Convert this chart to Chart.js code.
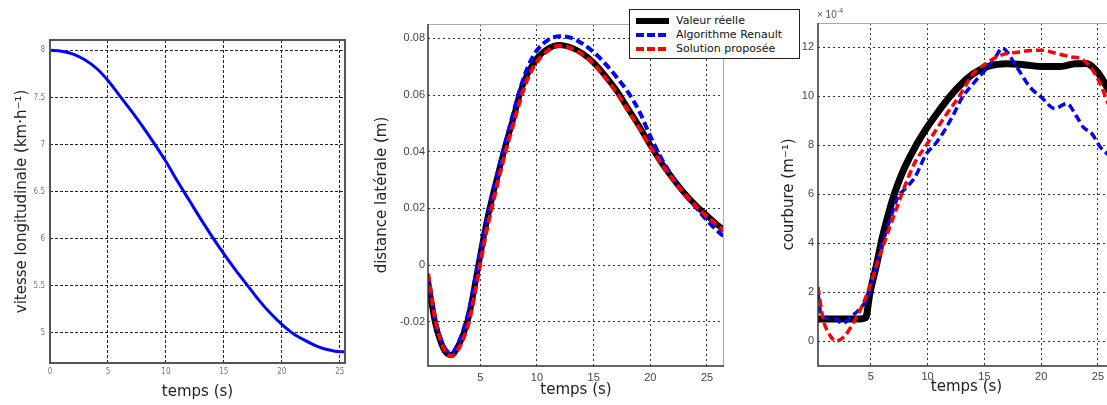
<!DOCTYPE html>
<html>
<head>
<meta charset="utf-8">
<script src="https://cdn.jsdelivr.net/npm/chart.js@4/dist/chart.umd.min.js"></script>
<style>
  html, body { margin: 0; padding: 0; background: #fff; }
  body { width: 1107px; height: 405px; overflow: hidden; position: relative; }
  canvas { position: absolute; top: 0; }
  #legend {
    position: absolute; left: 629px; top: 9px; width: 169px; height: 48px;
    border: 1px solid #222; background: #fff;
    font-family: "DejaVu Sans", sans-serif; font-size: 11px; color: #111;
  }
  #legend .row { position: absolute; left: 0; height: 14px; line-height: 14px; }
  #legend .smp { position: absolute; left: 6px; width: 33px; }
  #legend .txt { position: absolute; left: 46px; top: 0; white-space: nowrap; }
</style>
</head>
<body>
<canvas id="vitesse" width="360" height="405" style="left:0px"></canvas>
<canvas id="distance" width="380" height="405" style="left:360px"></canvas>
<canvas id="courbure" width="400" height="405" style="left:740px"></canvas>
<div id="legend">
  <div class="row" style="top:4px"><div class="smp" style="top:4px;height:6px;background:#000"></div><span class="txt">Valeur réelle</span></div>
  <div class="row" style="top:18px"><div class="smp" style="top:5px;height:4px;background:repeating-linear-gradient(to right,#0000ff 0 8px,transparent 8px 11px)"></div><span class="txt">Algorithme Renault</span></div>
  <div class="row" style="top:32px"><div class="smp" style="top:5px;height:4px;background:repeating-linear-gradient(to right,#ff0000 0 8px,transparent 8px 11px)"></div><span class="txt">Solution proposée</span></div>
</div>
<script>
// ---- vitesse longitudinale ----
const tVitesse = [0, 1, 2, 3, 4, 5, 6, 7, 8, 9, 10, 11, 12, 13, 14, 15, 16, 17, 18, 19, 20, 21, 22, 23, 24, 25, 25.5];
const vitesse = [8.0, 7.99, 7.96, 7.90, 7.81, 7.68, 7.52, 7.36, 7.19, 7.01, 6.82, 6.61, 6.41, 6.21, 6.02, 5.84, 5.67, 5.51, 5.35, 5.21, 5.09, 4.99, 4.92, 4.86, 4.82, 4.80, 4.80];
const vitesseXTicks = [0, 5, 10, 15, 20, 25];
const vitesseYTicks = [5, 5.5, 6, 6.5, 7, 7.5, 8];

// ---- distance latérale ----
const tDistance = [0.4, 1, 1.5, 2, 2.5, 3, 3.5, 4, 4.5, 5, 5.5, 6, 6.5, 7, 7.5, 8, 8.5, 9, 9.5, 10, 11, 12, 13, 14, 15, 16, 17, 18, 19, 20, 21, 22, 23, 24, 25, 26, 26.5];
const distReelle = [-0.006, -0.020, -0.027, -0.031, -0.0317, -0.029, -0.0245, -0.018, -0.0075, 0.0035, 0.014, 0.023, 0.031, 0.0388, 0.046, 0.053, 0.0605, 0.066, 0.070, 0.0730, 0.0765, 0.0777, 0.0768, 0.0748, 0.0715, 0.067, 0.0618, 0.0555, 0.0492, 0.0423, 0.036, 0.0305, 0.0255, 0.0212, 0.0175, 0.014, 0.0125];
const distRenault = [-0.004, -0.019, -0.026, -0.030, -0.031, -0.028, -0.023, -0.016, -0.006, 0.0045, 0.0145, 0.0235, 0.0318, 0.040, 0.0475, 0.055, 0.062, 0.068, 0.0725, 0.0758, 0.0795, 0.0808, 0.0802, 0.0782, 0.0752, 0.0712, 0.0665, 0.0612, 0.0545, 0.0455, 0.0375, 0.031, 0.025, 0.0205, 0.0158, 0.0118, 0.0101];
const distProposee = [-0.003, -0.0185, -0.0265, -0.031, -0.032, -0.030, -0.026, -0.020, -0.0105, 0.0005, 0.011, 0.020, 0.0285, 0.0365, 0.044, 0.051, 0.058, 0.064, 0.0685, 0.0718, 0.0758, 0.0774, 0.0766, 0.0744, 0.071, 0.0663, 0.061, 0.0548, 0.0485, 0.0418, 0.0357, 0.0302, 0.0252, 0.0209, 0.0172, 0.0138, 0.0122];
const distanceXTicks = [5, 10, 15, 20, 25];
const distanceYTicks = [-0.02, 0, 0.02, 0.04, 0.06, 0.08];

// ---- courbure (x 10^-4) ----
const tCourbReelle = [0.35, 1, 2, 3, 4, 4.55, 4.9, 5.5, 6, 6.5, 7, 7.5, 8, 9, 10, 11, 12, 13, 14, 15, 16, 17, 18, 19, 20, 21, 22, 23, 24, 24.5, 25, 25.5, 26, 26.5];
const courbReelle = [0.9, 0.9, 0.9, 0.9, 0.9, 0.95, 1.9, 3.1, 4.2, 5.1, 5.9, 6.55, 7.1, 8.0, 8.75, 9.4, 10.0, 10.5, 10.9, 11.15, 11.28, 11.32, 11.3, 11.25, 11.2, 11.2, 11.22, 11.32, 11.33, 11.2, 10.95, 10.6, 10.2, 9.8];
const tCourbRenault = [0.35, 0.65, 1.2, 1.9, 2.5, 3.3, 4.2, 4.8, 5.35, 5.95, 6.8, 7.4, 8.0, 8.9, 9.9, 10.6, 11.5, 12.4, 13.0, 14.0, 15.05, 16.0, 16.55, 17.85, 19.0, 20.0, 21.2, 22.25, 23.15, 23.7, 24.45, 25.2, 25.8, 26.5];
const courbRenault = [1.93, 1.0, 0.92, 0.9, 0.72, 1.0, 1.4, 1.84, 2.8, 3.9, 5.1, 5.9, 6.2, 6.7, 7.65, 8.0, 8.6, 9.35, 9.9, 10.5, 11.05, 11.6, 11.95, 11.18, 10.37, 9.96, 9.49, 9.69, 9.14, 8.73, 8.47, 7.92, 7.65, 7.3];
const tCourbProposee = [0.35, 0.8, 1.25, 1.95, 2.7, 3.45, 4.2, 4.9, 5.65, 6.25, 7.1, 8.0, 8.9, 9.9, 10.9, 11.8, 12.8, 14.0, 15.05, 16.4, 18.1, 20.0, 21.4, 22.6, 23.6, 24.3, 25.2, 25.8, 26.5];
const courbProposee = [2.2, 0.9, 0.35, 0.0, 0.2, 0.74, 1.4, 2.2, 3.3, 4.1, 5.2, 6.33, 7.3, 8.0, 8.73, 9.35, 10.0, 10.9, 11.3, 11.66, 11.8, 11.87, 11.73, 11.6, 11.5, 11.2, 10.5, 9.8, 9.0];
const courbureXTicks = [5, 10, 15, 20, 25];
const courbureYTicks = [0, 2, 4, 6, 8, 10, 12];

const points = (xs, ys) => xs.map((x, i) => ({ x: x, y: ys[i] }));
const setTicks = arr => scale => { scale.ticks = arr.map(v => ({ value: v })); };

const titleFont = { family: "DejaVu Sans", size: 15 };

// frame around the plot area (matlab box)
function framePlugin(full) {
    return {
        id: 'frame',
        afterDatasetsDraw(chart) {
            const a = chart.chartArea;
            const ctx = chart.ctx;
            ctx.save();
            if (full) {
                ctx.strokeStyle = '#555';
                ctx.lineWidth = 2;
                ctx.strokeRect(a.left, a.top, a.right - a.left, a.bottom - a.top);
            } else {
                ctx.strokeStyle = '#aaa';
                ctx.lineWidth = 1;
                ctx.beginPath();
                ctx.moveTo(a.left, a.top + 0.5);
                ctx.lineTo(a.right - 0.5, a.top + 0.5);
                ctx.lineTo(a.right - 0.5, a.bottom);
                ctx.stroke();
                ctx.strokeStyle = '#333';
                ctx.lineWidth = 1.5;
                ctx.beginPath();
                ctx.moveTo(a.left, a.top);
                ctx.lineTo(a.left, a.bottom);
                ctx.lineTo(a.right, a.bottom);
                ctx.stroke();
            }
            ctx.restore();
        }
    };
}

function scalesFor(o) {
    return {
        x: {
            type: 'linear', min: o.xmin, max: o.xmax,
            afterBuildTicks: setTicks(o.xTicks),
            afterFit: s => { s.height = o.xh; },
            grid: { color: o.gridColor, lineWidth: 1, drawTicks: false },
            border: { display: false, dash: o.dash },
            ticks: { padding: o.xPad, color: o.tickColor, font: o.tickFont, maxRotation: 0, autoSkip: false,
                     callback: v => String(v) },
            title: { display: true, text: 'temps (s)', color: '#222', font: titleFont,
                     padding: { top: 0, bottom: o.xTitlePad } }
        },
        y: {
            type: 'linear', min: o.ymin, max: o.ymax,
            afterBuildTicks: setTicks(o.yTicks),
            afterFit: s => { s.width = o.yw; },
            grid: { color: o.gridColor, lineWidth: 1, drawTicks: false },
            border: { display: false, dash: o.dash },
            ticks: { padding: o.yPad, color: o.tickColor, font: o.tickFont, autoSkip: false,
                     callback: v => String(v) },
            title: { display: true, text: o.yTitle, color: '#222', font: titleFont,
                     padding: { top: o.yTitlePad, bottom: 0 } }
        }
    };
}

const lineStyle = (color, width, dash, order) => ({
    borderColor: color, backgroundColor: color, borderWidth: width, borderDash: dash || [],
    pointRadius: 0, tension: 0.4, cubicInterpolationMode: 'monotone', fill: false, order: order
});

new Chart(document.getElementById('vitesse'), {
    type: 'line',
    data: { datasets: [Object.assign({ data: points(tVitesse, vitesse) }, lineStyle('#0000ff', 3))] },
    options: {
        responsive: false, animation: false,
        layout: { padding: { left: 0, right: 15, top: 40, bottom: 0 } },
        plugins: { legend: { display: false }, tooltip: { enabled: false } },
        scales: scalesFor({
            xmin: 0, xmax: 25.45, ymin: 4.68, ymax: 8.11,
            xTicks: vitesseXTicks, yTicks: vitesseYTicks,
            xh: 42, yw: 50, xPad: 4, yPad: 5, xTitlePad: 4, yTitlePad: 13,
            gridColor: '#222', dash: [3, 2], tickColor: '#777',
            tickFont: { family: "'DejaVu Sans Condensed', 'Liberation Sans Narrow', sans-serif", size: 8 },
            yTitle: 'vitesse longitudinale (km·h⁻¹)'
        })
    },
    plugins: [framePlugin(true)]
});

new Chart(document.getElementById('distance'), {
    type: 'line',
    data: { datasets: [
        Object.assign({ label: 'Valeur réelle', data: points(tDistance, distReelle) }, lineStyle('#000000', 6, [], 3)),
        Object.assign({ label: 'Algorithme Renault', data: points(tDistance, distRenault) }, lineStyle('#0000ff', 4, [8, 4], 2)),
        Object.assign({ label: 'Solution proposée', data: points(tDistance, distProposee) }, lineStyle('#ff0000', 4, [8, 4], 1))
    ] },
    options: {
        responsive: false, animation: false,
        layout: { padding: { left: 0, right: 16, top: 24, bottom: 0 } },
        plugins: { legend: { display: false }, tooltip: { enabled: false } },
        scales: scalesFor({
            xmin: 0.39, xmax: 26.5, ymin: -0.0356, ymax: 0.0851,
            xTicks: distanceXTicks, yTicks: distanceYTicks,
            xh: 39, yw: 68, xPad: 5, yPad: 3, xTitlePad: 6, yTitlePad: 13,
            gridColor: '#333', dash: [2, 3], tickColor: '#444',
            tickFont: { family: "'Liberation Sans', Arial, sans-serif", size: 11 },
            yTitle: 'distance latérale (m)'
        })
    },
    plugins: [framePlugin(false)]
});

new Chart(document.getElementById('courbure'), {
    type: 'line',
    data: { datasets: [
        Object.assign({ label: 'Valeur réelle', data: points(tCourbReelle, courbReelle) }, lineStyle('#000000', 7, [], 3)),
        Object.assign({ label: 'Algorithme Renault', data: points(tCourbRenault, courbRenault) }, lineStyle('#0000ff', 3.5, [8, 4], 2)),
        Object.assign({ label: 'Solution proposée', data: points(tCourbProposee, courbProposee) }, lineStyle('#ff0000', 3.5, [8, 4], 1))
    ] },
    options: {
        responsive: false, animation: false,
        layout: { padding: { left: 0, right: 25, top: 23, bottom: 0 } },
        plugins: { legend: { display: false }, tooltip: { enabled: false } },
        scales: scalesFor({
            xmin: 0.35, xmax: 26.5, ymin: -1.02, ymax: 12.98,
            xTicks: courbureXTicks, yTicks: courbureYTicks,
            xh: 39, yw: 78, xPad: 4, yPad: 4, xTitlePad: 9, yTitlePad: 40,
            gridColor: '#333', dash: [2, 3], tickColor: '#444',
            tickFont: { family: "'Liberation Sans', Arial, sans-serif", size: 11 },
            yTitle: 'courbure (m⁻¹)'
        })
    },
    plugins: [framePlugin(false), {
        id: 'exposant',
        afterDraw(chart) {
            const a = chart.chartArea;
            const ctx = chart.ctx;
            ctx.save();
            ctx.fillStyle = '#555';
            ctx.textBaseline = 'alphabetic';
            ctx.font = "10px 'Liberation Sans', Arial, sans-serif";
            ctx.fillText('× 10', a.left - 1, a.top - 5);
            ctx.font = "7px 'Liberation Sans', Arial, sans-serif";
            ctx.fillText('-4', a.left + ctx.measureText('× 10').width + 5, a.top - 10);
            ctx.restore();
        }
    }]
});
</script>
</body>
</html>
